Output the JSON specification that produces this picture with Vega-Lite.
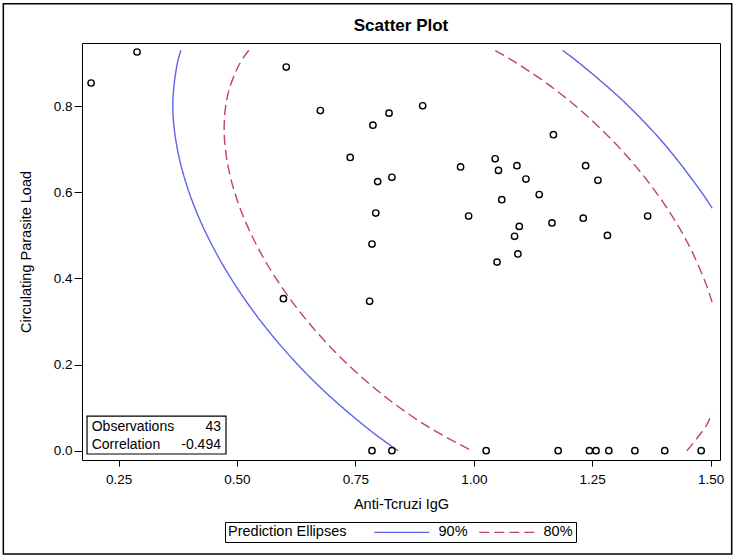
{
  "$schema": "https://vega.github.io/schema/vega-lite/v6.json",
  "autosize": {"type": "none"},
  "padding": {"left": 82, "top": 43, "right": 22, "bottom": 98},
  "width": 638,
  "height": 417,
  "background": "#ffffff",
  "title": {"text": "Scatter Plot", "offset": 9, "frame": "group", "dy": 41},
  "datasets": {
    "points": [
      {"x": 0.192, "y": 0.854}, {"x": 0.289, "y": 0.926}, {"x": 0.604, "y": 0.891}, {"x": 0.676, "y": 0.790},
      {"x": 0.821, "y": 0.784}, {"x": 0.892, "y": 0.801}, {"x": 0.787, "y": 0.756}, {"x": 0.739, "y": 0.681},
      {"x": 0.797, "y": 0.625}, {"x": 0.827, "y": 0.635}, {"x": 0.793, "y": 0.552}, {"x": 0.785, "y": 0.480},
      {"x": 0.972, "y": 0.659}, {"x": 1.045, "y": 0.678}, {"x": 1.052, "y": 0.651}, {"x": 0.989, "y": 0.545},
      {"x": 1.059, "y": 0.583}, {"x": 1.049, "y": 0.438}, {"x": 1.168, "y": 0.734}, {"x": 1.091, "y": 0.662},
      {"x": 1.110, "y": 0.631}, {"x": 1.138, "y": 0.595}, {"x": 1.236, "y": 0.662}, {"x": 1.262, "y": 0.628},
      {"x": 1.096, "y": 0.521}, {"x": 1.086, "y": 0.498}, {"x": 1.093, "y": 0.457}, {"x": 1.165, "y": 0.529},
      {"x": 1.231, "y": 0.540}, {"x": 1.282, "y": 0.500}, {"x": 1.367, "y": 0.545}, {"x": 0.598, "y": 0.353},
      {"x": 0.780, "y": 0.347}, {"x": 0.785, "y": 0}, {"x": 0.827, "y": 0}, {"x": 1.026, "y": 0},
      {"x": 1.178, "y": 0}, {"x": 1.244, "y": 0}, {"x": 1.258, "y": 0}, {"x": 1.285, "y": 0},
      {"x": 1.340, "y": 0}, {"x": 1.403, "y": 0}, {"x": 1.480, "y": 0}
    ],
    "ellipses": [
      {"level": "90%", "seg": "90a", "i": 0, "x": 1.503, "y": 0.5634},
      {"level": "90%", "seg": "90a", "i": 1, "x": 1.4826, "y": 0.5974},
      {"level": "90%", "seg": "90a", "i": 2, "x": 1.4045, "y": 0.7090},
      {"level": "90%", "seg": "90a", "i": 3, "x": 1.3141, "y": 0.8135},
      {"level": "90%", "seg": "90a", "i": 4, "x": 1.2141, "y": 0.9078},
      {"level": "90%", "seg": "90a", "i": 5, "x": 1.1872, "y": 0.93},
      {"level": "90%", "seg": "90b", "i": 0, "x": 0.3817, "y": 0.93},
      {"level": "90%", "seg": "90b", "i": 1, "x": 0.3742, "y": 0.9006},
      {"level": "90%", "seg": "90b", "i": 2, "x": 0.3645, "y": 0.8053},
      {"level": "90%", "seg": "90b", "i": 3, "x": 0.3742, "y": 0.7001},
      {"level": "90%", "seg": "90b", "i": 4, "x": 0.4027, "y": 0.5881},
      {"level": "90%", "seg": "90b", "i": 5, "x": 0.4494, "y": 0.4728},
      {"level": "90%", "seg": "90b", "i": 6, "x": 0.5127, "y": 0.3576},
      {"level": "90%", "seg": "90b", "i": 7, "x": 0.5907, "y": 0.2460},
      {"level": "90%", "seg": "90b", "i": 8, "x": 0.6811, "y": 0.1415},
      {"level": "90%", "seg": "90b", "i": 9, "x": 0.7811, "y": 0.0472},
      {"level": "90%", "seg": "90b", "i": 10, "x": 0.8398, "y": 0},
      {"level": "80%", "seg": "80a", "i": 0, "x": 1.503, "y": 0.3445},
      {"level": "80%", "seg": "80a", "i": 1, "x": 1.4907, "y": 0.3858},
      {"level": "80%", "seg": "80a", "i": 2, "x": 1.4520, "y": 0.4814},
      {"level": "80%", "seg": "80a", "i": 3, "x": 1.3996, "y": 0.5769},
      {"level": "80%", "seg": "80a", "i": 4, "x": 1.3349, "y": 0.6694},
      {"level": "80%", "seg": "80a", "i": 5, "x": 1.2600, "y": 0.7560},
      {"level": "80%", "seg": "80a", "i": 6, "x": 1.1771, "y": 0.8342},
      {"level": "80%", "seg": "80a", "i": 7, "x": 1.0887, "y": 0.9015},
      {"level": "80%", "seg": "80a", "i": 8, "x": 1.0441, "y": 0.93},
      {"level": "80%", "seg": "80b", "i": 0, "x": 0.5249, "y": 0.93},
      {"level": "80%", "seg": "80b", "i": 1, "x": 0.5045, "y": 0.8965},
      {"level": "80%", "seg": "80b", "i": 2, "x": 0.4809, "y": 0.8282},
      {"level": "80%", "seg": "80b", "i": 3, "x": 0.4729, "y": 0.7492},
      {"level": "80%", "seg": "80b", "i": 4, "x": 0.4809, "y": 0.6620},
      {"level": "80%", "seg": "80b", "i": 5, "x": 0.5045, "y": 0.5692},
      {"level": "80%", "seg": "80b", "i": 6, "x": 0.5432, "y": 0.4736},
      {"level": "80%", "seg": "80b", "i": 7, "x": 0.5956, "y": 0.3781},
      {"level": "80%", "seg": "80b", "i": 8, "x": 0.6603, "y": 0.2856},
      {"level": "80%", "seg": "80b", "i": 9, "x": 0.7352, "y": 0.1990},
      {"level": "80%", "seg": "80b", "i": 10, "x": 0.8181, "y": 0.1208},
      {"level": "80%", "seg": "80b", "i": 11, "x": 0.9065, "y": 0.0535},
      {"level": "80%", "seg": "80b", "i": 12, "x": 0.9958, "y": 0},
      {"level": "80%", "seg": "80c", "i": 0, "x": 1.4491, "y": 0},
      {"level": "80%", "seg": "80c", "i": 1, "x": 1.4520, "y": 0.0030},
      {"level": "80%", "seg": "80c", "i": 2, "x": 1.4907, "y": 0.0585},
      {"level": "80%", "seg": "80c", "i": 3, "x": 1.503, "y": 0.0871}
    ],
    "stats": [
      {"label": "Observations", "value": "43", "row": 1},
      {"label": "Correlation", "value": "-0.494", "row": 2}
    ]
  },
  "layer": [
    {
      "data": {"name": "ellipses"},
      "mark": {"type": "line", "interpolate": "catmull-rom", "strokeWidth": 1.4},
      "encoding": {
        "x": {"field": "x", "type": "quantitative", "scale": {"domain": [0.1728, 1.5197], "nice": false, "zero": false},
              "axis": {"values": [0.25, 0.5, 0.75, 1.0, 1.25, 1.5], "format": ".2f", "title": "Anti-Tcruzi IgG", "titlePadding": 12, "labelPadding": 6}},
        "y": {"field": "y", "type": "quantitative", "scale": {"domain": [-0.0216, 0.9469], "nice": false, "zero": false},
              "axis": {"values": [0, 0.2, 0.4, 0.6, 0.8], "format": ".1f", "title": "Circulating Parasite Load", "titlePadding": 20, "tickSize": 8, "labelPadding": 2}},
        "color": {"field": "level", "type": "nominal", "scale": {"domain": ["90%", "80%"], "range": ["#5c64e6", "#c23f70"]}, "title": "Prediction Ellipses"},
        "strokeDash": {"field": "level", "type": "nominal", "scale": {"domain": ["90%", "80%"], "range": [[1, 0], [10, 5]]}, "title": "Prediction Ellipses"},
        "detail": {"field": "seg"},
        "order": {"field": "i", "type": "quantitative"}
      }
    },
    {
      "data": {"name": "points"},
      "mark": {"type": "point", "shape": "circle", "filled": false, "size": 40, "stroke": "#000000", "strokeWidth": 1.4, "opacity": 1},
      "encoding": {
        "x": {"field": "x", "type": "quantitative"},
        "y": {"field": "y", "type": "quantitative"}
      }
    },
    {
      "data": {"name": "stats"},
      "transform": [{"filter": "datum.row == 1"}],
      "mark": {"type": "rect", "fill": "#ffffff", "fillOpacity": 0, "stroke": "#000000", "strokeWidth": 1.2},
      "encoding": {
        "x": {"datum": 0.1834},
        "x2": {"datum": 0.4768},
        "y": {"datum": 0.0805},
        "y2": {"datum": -0.0077}
      }
    },
    {
      "data": {"name": "stats"},
      "transform": [{"filter": "datum.row == 1"}],
      "mark": {"type": "text", "align": "left", "baseline": "middle", "fontSize": 14, "color": "#000000"},
      "encoding": {"x": {"datum": 0.1933}, "y": {"datum": 0.0557}, "text": {"field": "label"}}
    },
    {
      "data": {"name": "stats"},
      "transform": [{"filter": "datum.row == 1"}],
      "mark": {"type": "text", "align": "right", "baseline": "middle", "fontSize": 14, "color": "#000000"},
      "encoding": {"x": {"datum": 0.4662}, "y": {"datum": 0.0557}, "text": {"field": "value"}}
    },
    {
      "data": {"name": "stats"},
      "transform": [{"filter": "datum.row == 2"}],
      "mark": {"type": "text", "align": "left", "baseline": "middle", "fontSize": 14, "color": "#000000"},
      "encoding": {"x": {"datum": 0.1933}, "y": {"datum": 0.0132}, "text": {"field": "label"}}
    },
    {
      "data": {"name": "stats"},
      "transform": [{"filter": "datum.row == 2"}],
      "mark": {"type": "text", "align": "right", "baseline": "middle", "fontSize": 14, "color": "#000000"},
      "encoding": {"x": {"datum": 0.4662}, "y": {"datum": 0.0132}, "text": {"field": "value"}}
    },
    {
      "data": {"name": "stats"},
      "transform": [{"filter": "datum.row == 1"}],
      "mark": {"type": "rect", "fillOpacity": 0, "fill": "#ffffff", "stroke": "#000000", "strokeWidth": 1.5, "clip": false},
      "encoding": {
        "x": {"datum": 0.0067},
        "x2": {"datum": 1.5444},
        "y": {"datum": 1.0383},
        "y2": {"datum": -0.2397}
      }
    }
  ],
  "config": {
    "font": "Liberation Sans",
    "view": {"stroke": "#000000", "strokeWidth": 1},
    "title": {"fontSize": 17, "fontWeight": "bold", "color": "#000000"},
    "axis": {"grid": false, "domain": false, "tickColor": "#000000", "tickSize": 6, "labelColor": "#000000", "titleColor": "#000000", "labelFontSize": 13.5, "titleFontSize": 14.5, "titleFontWeight": "normal", "labelFont": "Liberation Sans", "titleFont": "Liberation Sans"},
    "legend": {"orient": "none", "legendX": 143, "legendY": 479, "direction": "horizontal", "titleOrient": "left", "titleFontSize": 14.5, "titleFontWeight": "normal", "titleColor": "#000000", "labelFontSize": 14.5, "labelColor": "#000000", "symbolType": "M0,0H11", "symbolSize": 100, "symbolStrokeWidth": 1.4, "strokeColor": "#000000", "padding": 3, "columnPadding": 4, "labelOffset": 57, "titlePadding": 20}
  }
}
